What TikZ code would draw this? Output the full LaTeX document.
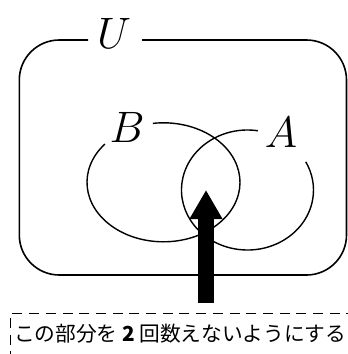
\RequirePackage{fix-cm}
\documentclass[tikz,border=0pt]{standalone}
\usepackage{fontspec}
\newfontfamily\jpfont{Noto Sans CJK JP}
\usetikzlibrary{arrows.meta}
\tikzset{
  univ/.style={line width=1.6pt, rounded corners=40pt},
  setline/.style={line width=1.4pt},
  biglabel/.style={inner sep=0pt, font=\fontsize{44}{44}\selectfont},
  notebox/.style={draw, line width=1.3pt, dash pattern=on 10pt off 6.7pt, anchor=north west, minimum width=360pt, minimum height=60pt, inner sep=0pt},
  notetext/.style={inner sep=0pt, anchor=west, font=\jpfont\fontsize{20.7}{20.7}\selectfont},
  bigarrow/.style={line width=16pt, -{Triangle[width=31pt,length=29pt]}}
}
\begin{document}
\begin{tikzpicture}[x=1pt,y=1pt]
\useasboundingbox (0,0) rectangle (348,-354);
% universe
\node[biglabel] (U) at (114,-33) {$U$};
\draw[univ] (88,-40) -- (19.3,-40) -- (19.3,-275) -- (346.5,-275) -- (346.5,-40) -- (142,-40);
% sets
\coordinate (Bc) at (163.5,-182.3);
\coordinate (Ac) at (247.5,-190);
\draw[setline] ([shift={(140:76.5pt and 59.5pt)}]Bc) arc[start angle=140, end angle=458, x radius=76.5pt, y radius=59.5pt];
\draw[setline] ([shift={(81:66pt and 60pt)}]Ac) arc[start angle=81, end angle=388, x radius=66pt, y radius=60pt];
\node[biglabel] (B) at (127,-127) {$B$};
\node[biglabel] (A) at (281,-132) {$A$};
% note
\node[notebox] (box) at (10,-312.5) {};
\node[notetext] (note) at (14,-334) {この部分を \textbf{2} 回数えないようにする};
% arrow
\coordinate (tip) at (206,-190);
\draw[bigarrow] ([yshift=10pt]box.north -| tip) -- (tip);
\end{tikzpicture}
\end{document}
